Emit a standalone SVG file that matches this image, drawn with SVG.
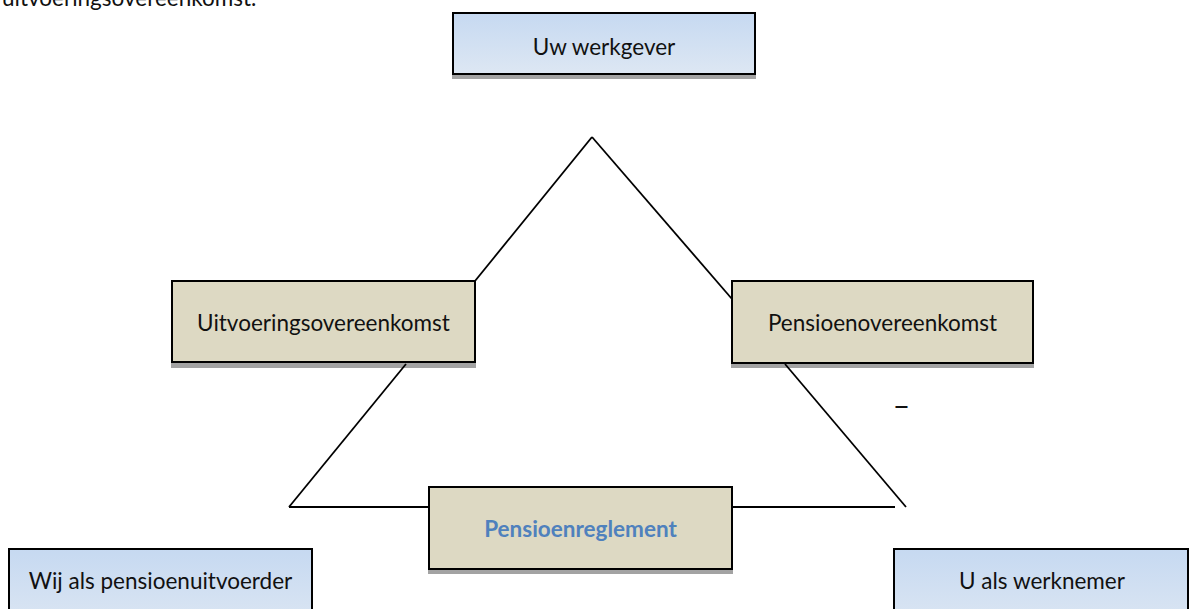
<svg xmlns="http://www.w3.org/2000/svg" width="1190" height="609" viewBox="0 0 1190 609">
  <defs>
    <linearGradient id="blueFill" x1="0" y1="0" x2="0" y2="1">
      <stop offset="0" stop-color="#C6D9F1"/>
      <stop offset="1" stop-color="#DDE7F3"/>
    </linearGradient>
    <style>
      .shadow { fill: #A3A3A3; }
      .blue { fill: url(#blueFill); stroke: #000; stroke-width: 2; }
      .tan { fill: #DDD9C3; stroke: #000; stroke-width: 2; }
      .lbl { font-family: Lato, "Open Sans", "Liberation Sans", sans-serif; font-size: 22.5px; fill: #111; text-anchor: middle; }
      .bold { font-weight: bold; fill: #4F81BD; }
      .conn { stroke: #000; stroke-width: 1.8; fill: none; }
    </style>
  </defs>
  <rect width="1190" height="609" fill="#fff"/>

  <text x="2" y="6" class="lbl" style="text-anchor:start">uitvoeringsovereenkomst.</text>

  <g id="node-werkgever">
    <rect class="shadow" x="452" y="17" width="304" height="62"/>
    <rect class="blue" x="453" y="13" width="302" height="61"/>
    <text class="lbl" x="604" y="55">Uw werkgever</text>
  </g>

  <g id="node-uitvoeringsovereenkomst">
    <rect class="shadow" x="171" y="285" width="305" height="83"/>
    <rect class="tan" x="172" y="281" width="303" height="81"/>
    <text class="lbl" x="323.5" y="331">Uitvoeringsovereenkomst</text>
  </g>

  <g id="node-pensioenovereenkomst">
    <rect class="shadow" x="731" y="285" width="303" height="83"/>
    <rect class="tan" x="732" y="281" width="301" height="82"/>
    <text class="lbl" x="882.5" y="331">Pensioenovereenkomst</text>
  </g>

  <g id="node-pensioenreglement">
    <rect class="shadow" x="428" y="491" width="305" height="83"/>
    <rect class="tan" x="429" y="487" width="303" height="82"/>
    <text class="lbl bold" x="580.5" y="537">Pensioenreglement</text>
  </g>

  <g id="node-pensioenuitvoerder">
    <rect class="blue" x="9" y="549" width="303" height="82"/>
    <text class="lbl" x="160.5" y="589">Wij als pensioenuitvoerder</text>
  </g>

  <g id="node-werknemer">
    <rect class="blue" x="894" y="549" width="294" height="82"/>
    <text class="lbl" x="1042" y="589">U als werknemer</text>
  </g>

  <text class="lbl" x="901.5" y="416" style="font-size:30px">–</text>

  <g id="connectors">
    <line class="conn" x1="592" y1="137" x2="475" y2="281"/>
    <line class="conn" x1="592" y1="137" x2="732" y2="299"/>
    <line class="conn" x1="406" y1="364" x2="289" y2="507"/>
    <line class="conn" x1="289" y1="507" x2="429" y2="507"/>
    <line class="conn" x1="785" y1="364" x2="906" y2="507"/>
    <line class="conn" x1="732" y1="507" x2="895" y2="507"/>
  </g>
</svg>
